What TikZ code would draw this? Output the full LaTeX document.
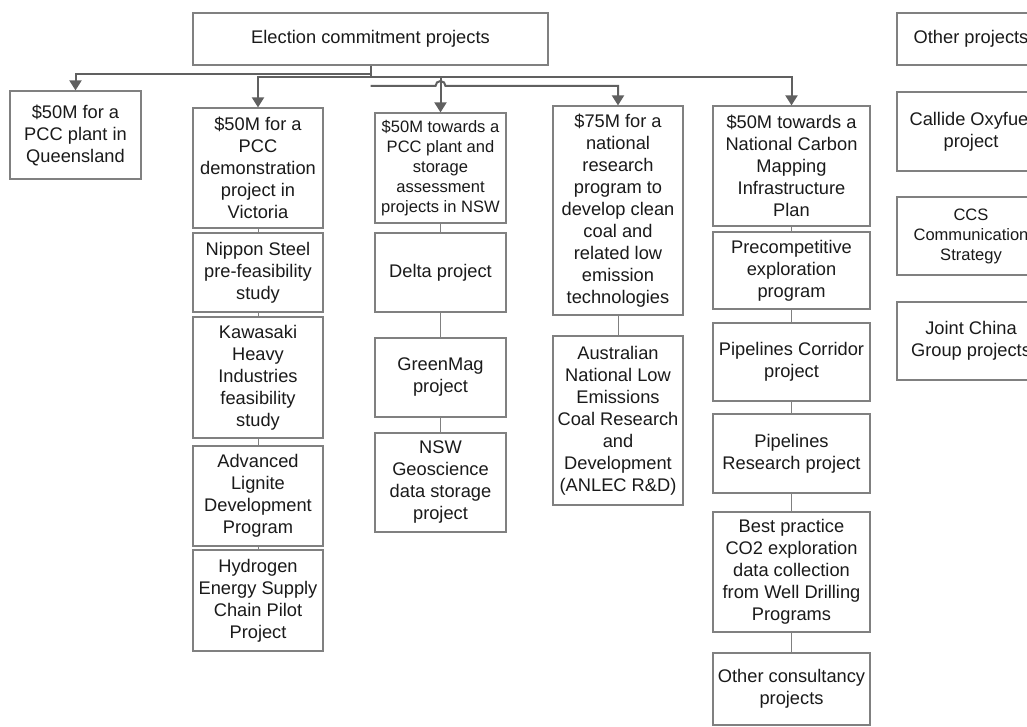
\documentclass[tikz,border=0pt]{standalone}
\usepackage{fontspec}
\setmainfont{Liberation Sans}
\usetikzlibrary{arrows.meta}
\definecolor{boxline}{RGB}{128,128,128}
\definecolor{connline}{RGB}{96,96,96}
\definecolor{txt}{RGB}{26,26,26}
\tikzset{
 bx/.style 2 args={draw=boxline, line width=0.9pt, fill=white, text=txt, align=center, inner sep=0pt,
   minimum width=#1*0.75pt, minimum height=#2*0.75pt, font=\fontsize{13.7}{16.5}\selectfont},
 sm/.style={font=\fontsize{12.4}{15}\selectfont},
 conn/.style={draw=connline, line width=1.5pt},
 arr/.style={conn, -{Triangle[width=9pt,length=7.5pt]}},
 link/.style={draw=boxline, line width=0.75pt},
}
\begin{document}
\begin{tikzpicture}[x=0.75pt,y=-0.75pt]
\useasboundingbox (0,0) rectangle (1027,727);
\clip (0,0) rectangle (1027,727);
% top
\node[bx={355}{52}] (top) at (370.5,39) {Election commitment projects};
% column 1
\node[bx={131}{88}] (b1) at (75.5,135) {\$50M for a\\PCC plant in\\Queensland};
% column 2
\node[bx={130}{120}] (b2) at (258,168) {\$50M for a\\PCC\\demonstration\\project in\\Victoria};
\node[bx={130}{79}] (b2a) at (258,272.5) {Nippon Steel\\pre-feasibility\\study};
\node[bx={130}{121}] (b2b) at (258,377.5) {Kawasaki\\Heavy\\Industries\\feasibility\\study};
\node[bx={130}{100}] (b2c) at (258,496) {Advanced\\Lignite\\Development\\Program};
\node[bx={130}{101}] (b2d) at (258,600.5) {Hydrogen\\Energy Supply\\Chain Pilot\\Project};
% column 3
\node[bx={131}{110},sm] (b3) at (440.5,168) {\$50M towards a\\PCC plant and\\storage\\assessment\\projects in NSW};
\node[bx={131}{79}] (b3a) at (440.5,272.5) {Delta project};
\node[bx={131}{79}] (b3b) at (440.5,377.5) {GreenMag\\project};
\node[bx={131}{99}] (b3c) at (440.5,482.5) {NSW\\Geoscience\\data storage\\project};
% column 4
\node[bx={130}{209}] (b4) at (618,210.5) {\$75M for a\\national\\research\\program to\\develop clean\\coal and\\related low\\emission\\technologies};
\node[bx={130}{169}] (b4a) at (618,420.5) {Australian\\National Low\\Emissions\\Coal Research\\and\\Development\\(ANLEC R\&D)};
% column 5
\node[bx={157}{120}] (b5) at (791.5,166) {\$50M towards a\\National Carbon\\Mapping\\Infrastructure\\Plan};
\node[bx={157}{77}] (b5a) at (791.5,270.5) {Precompetitive\\exploration\\program};
\node[bx={157}{78}] (b5b) at (791.5,362) {Pipelines Corridor\\project};
\node[bx={157}{79}] (b5c) at (791.5,453.5) {Pipelines\\Research project};
\node[bx={157}{120}] (b5d) at (791.5,572) {Best practice\\CO2 exploration\\data collection\\from Well Drilling\\Programs};
\node[bx={157}{72}] (b5e) at (791.5,689) {Other consultancy\\projects};
% right column
\node[bx={148}{52}] (r1) at (971,39) {Other projects};
\node[bx={148}{79}] (r2) at (971,131.5) {Callide Oxyfuel\\project};
\node[bx={148}{78},sm] (r3) at (971,236) {CCS\\Communication\\Strategy};
\node[bx={148}{78}] (r4) at (971,341) {Joint China\\Group projects};
% connectors from top
\coordinate (j1) at (top.south |- 0,74);
\coordinate (j2) at (top.south |- 0,77);
\coordinate (j3) at (top.south |- 0,86);
\draw[conn] (top.south) -- (j2);
\draw[arr] (j1) -| (b1.north);
\draw[arr] (j2) -| (b2.north);
\draw[arr] (j2) -| (b5.north);
\draw[arr] (b3.north |- j2) -- (b3.north);
\draw[arr] (j3) -- ([xshift=-5*0.75pt]b3.north |- j3) arc[start angle=180,end angle=360,radius=5] -| (b4.north);
% stacked links
\draw[link] (b2.south) -- (b2a.north);
\draw[link] (b2a.south) -- (b2b.north);
\draw[link] (b2b.south) -- (b2c.north);
\draw[link] (b2c.south) -- (b2d.north);
\draw[link] (b3.south) -- (b3a.north);
\draw[link] (b3a.south) -- (b3b.north);
\draw[link] (b3b.south) -- (b3c.north);
\draw[link] (b4.south) -- (b4a.north);
\draw[link] (b5.south) -- (b5a.north);
\draw[link] (b5a.south) -- (b5b.north);
\draw[link] (b5b.south) -- (b5c.north);
\draw[link] (b5c.south) -- (b5d.north);
\draw[link] (b5d.south) -- (b5e.north);
\end{tikzpicture}
\end{document}
